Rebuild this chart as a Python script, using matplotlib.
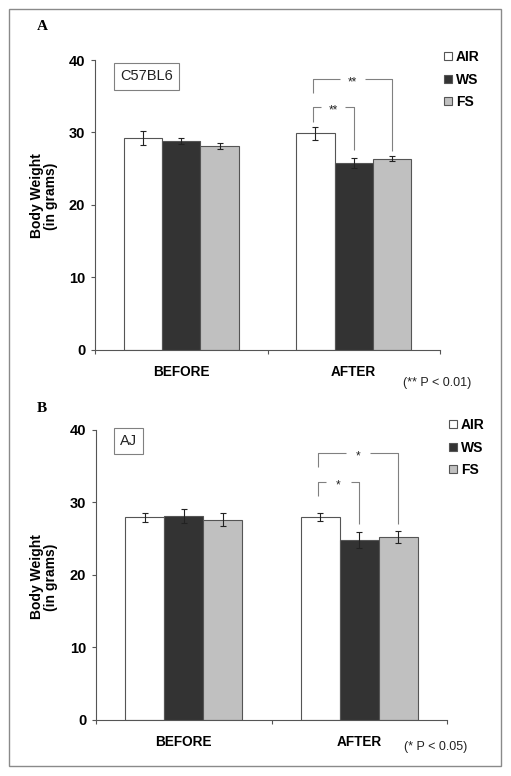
import numpy as np
import matplotlib
matplotlib.use('Agg')
import matplotlib.pyplot as plt
from matplotlib.patches import Patch, Rectangle

plt.rcParams['font.family'] = ['Liberation Sans', 'DejaVu Sans']

# Data
groups = ['BEFORE', 'AFTER']
series = ['AIR', 'WS', 'FS']
colors = ['#ffffff', '#333333', '#c0c0c0']

a_air = [29.2, 29.9]
a_ws = [28.8, 25.75]
a_fs = [28.1, 26.4]
a_air_err = [0.95, 0.9]
a_ws_err = [0.4, 0.7]
a_fs_err = [0.4, 0.35]

b_air = [27.9, 27.9]
b_ws = [28.1, 24.8]
b_fs = [27.6, 25.2]
b_air_err = [0.6, 0.55]
b_ws_err = [1.0, 1.05]
b_fs_err = [0.9, 0.85]

# brackets: (series i, series j, top, left leg end, right leg end, stars)
a_brackets = [(0, 1, 33.5, 31.5, 27.6, '**'), (0, 2, 37.4, 35.4, 27.5, '**')]
b_brackets = [(0, 1, 32.8, 30.9, 27.0, '*'), (0, 2, 36.8, 34.8, 27.0, '*')]

W, H = 511, 776
fig = plt.figure(figsize=(W / 100, H / 100), dpi=100)

# outer frame
fig.add_artist(Rectangle((9 / W, 10 / H), 492 / W, 757 / H, transform=fig.transFigure,
                         fill=False, edgecolor='#8a8a8a', linewidth=1.0))

bw = 0.222
offsets = [-bw, 0, bw]
spine_col = '#555555'


def panel(rect, means, errs, brackets, strain, strain_xy, letter, letter_xy,
          ylab_y, pnote, pnote_xy, leg_xy):
    ax = fig.add_axes(rect)
    x = np.arange(len(groups))
    for k in range(3):
        ax.bar(x + offsets[k], means[k], bw, color=colors[k], edgecolor=spine_col,
               linewidth=0.8, zorder=2)
        ax.errorbar(x + offsets[k], means[k], yerr=errs[k], fmt='none', ecolor='#222222',
                    elinewidth=0.8, capsize=2.2, capthick=0.8, zorder=3)
    ax.set_xlim(-0.5, 1.5)
    ax.set_ylim(0, 40)
    ax.set_yticks([0, 10, 20, 30, 40])
    ax.tick_params(axis='y', direction='out', length=3, width=0.8, color=spine_col,
                   pad=4, labelsize=10.5)
    for lab in ax.get_yticklabels():
        lab.set_fontweight('bold')
    ax.set_xticks([-0.5, 0.5, 1.5])
    ax.set_xticklabels([])
    ax.tick_params(axis='x', which='major', direction='out', length=3, width=0.8,
                   color=spine_col)
    ax.set_xticks(x, minor=True)
    ax.set_xticklabels(groups, minor=True, fontsize=9.8, fontweight='bold')
    ax.tick_params(axis='x', which='minor', length=0, pad=11)
    for s in ['top', 'right']:
        ax.spines[s].set_visible(False)
    for s in ['left', 'bottom']:
        ax.spines[s].set_color(spine_col)
        ax.spines[s].set_linewidth(0.8)

    # significance brackets
    bc = '#808080'
    for i, j, top, yl, yr, stars in brackets:
        x1 = 1 + offsets[i] - 0.015
        x2 = 1 + offsets[j]
        mid = (x1 + x2) / 2
        gap = 0.07
        ax.plot([x1, x1, mid - gap], [yl, top, top], color=bc, linewidth=0.8,
                solid_capstyle='butt', zorder=4)
        ax.plot([mid + gap, x2, x2], [top, top, yr], color=bc, linewidth=0.8,
                solid_capstyle='butt', zorder=4)
        ax.text(mid, top - 0.5, stars, ha='center', va='center', fontsize=8.5,
                color='#222222', zorder=5)

    # strain box
    fig.text(strain_xy[0] / W, 1 - strain_xy[1] / H, strain, ha='center', va='center',
             fontsize=10.5, color='#222222',
             bbox=dict(boxstyle='square,pad=0.42', facecolor='white',
                       edgecolor='#808080', linewidth=0.8))

    # legend
    handles = [Patch(facecolor=c, edgecolor=spine_col, linewidth=0.8) for c in colors]
    fig.legend(handles, series, loc='upper left',
               bbox_to_anchor=(leg_xy[0] / W, 1 - leg_xy[1] / H),
               frameon=False, borderpad=0, borderaxespad=0,
               handlelength=0.55, handleheight=0.55, handletextpad=0.3,
               labelspacing=0.62, prop={'size': 10, 'weight': 'bold'})

    fig.text(44 / W, 1 - ylab_y / H, 'Body Weight\n(in grams)', rotation=90,
             ha='center', va='center', fontsize=10, fontweight='bold',
             linespacing=1.0)
    fig.text(letter_xy[0] / W, 1 - letter_xy[1] / H, letter, ha='center', va='center',
             fontsize=11, fontweight='bold', family='Liberation Serif')
    fig.text(pnote_xy[0] / W, 1 - pnote_xy[1] / H, pnote, ha='center', va='center',
             fontsize=9, color='#222222')
    return ax


panel([95 / W, 1 - 350 / H, 345 / W, 290 / H],
      [a_air, a_ws, a_fs], [a_air_err, a_ws_err, a_fs_err], a_brackets,
      'C57BL6', (146.5, 76.5), 'A', (42, 26), 196,
      '(** P < 0.01)', (437, 383), (444, 50))

panel([96 / W, 1 - 719.7 / H, 351 / W, 290 / H],
      [b_air, b_ws, b_fs], [b_air_err, b_ws_err, b_fs_err], b_brackets,
      'AJ', (128.5, 441), 'B', (42, 409), 577,
      '(* P < 0.05)', (436, 747), (449, 418))

fig.savefig('out.png', dpi=100)
